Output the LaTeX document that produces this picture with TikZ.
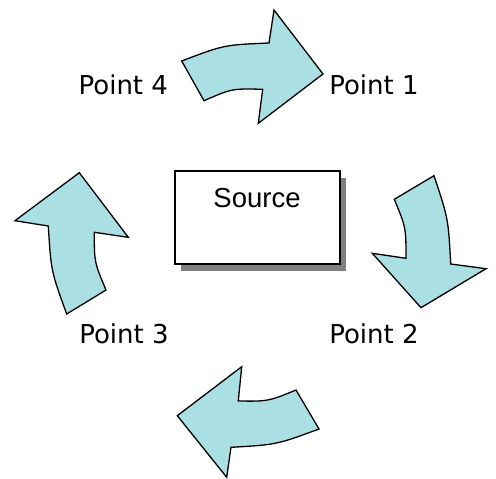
\documentclass[tikz,border=0pt]{standalone}
\usepackage{fontspec}
\usetikzlibrary{shadows}
\newfontfamily\labelfont{DejaVu Sans}
\newfontfamily\boxfont{Liberation Sans}
\definecolor{arrowfill}{RGB}{170,223,227}
\definecolor{shadowgray}{RGB}{128,128,128}
\begin{document}
\begin{tikzpicture}[x=1pt,y=-1pt,
  cyc/.style={draw=black,line width=1.3pt,fill=arrowfill,line join=miter},
  lbl/.style={font=\labelfont\fontsize{26}{30}\selectfont,inner sep=0pt,anchor=base west},
  srcbox/.style={draw=black,line width=1.5pt,fill=white,minimum width=165pt,minimum height=93pt,inner sep=0pt,
    drop shadow={shadow xshift=6pt,shadow yshift=-7pt,fill=shadowgray,opacity=1}},
  srctext/.style={font=\boxfont\fontsize{27.5}{32}\selectfont,inner sep=0pt,anchor=base}]
\useasboundingbox (0,0) rectangle (496,479);
% source box
\node[srcbox] (source) at (257.5,217.4) {};
\node[srctext] (sourcetext) at (257,207.3) {Source};
% labels
\node[lbl] (p4) at (78.4,94.3) {Point 4};
\node[lbl] (p1) at (329.1,94.3) {Point 1};
\node[lbl] (p3) at (79.1,343.3) {Point 3};
\node[lbl] (p2) at (329.1,343.3) {Point 2};
% arrow top (Point 4 -> Point 1)
\draw[cyc] (181.7,61) .. controls (223.9,44.9) .. (269,43) -- (274,10) -- (323,74) -- (258.3,123.3) -- (262.7,89.3)
  .. controls (232.1,88.5) .. (204,100.7) -- cycle;
% arrow right (Point 1 -> Point 2)
\draw[cyc] (434,175.7) .. controls (448.3,218.7) .. (450.7,264) -- (486,268.7) -- (421,307.7) -- (372.3,253.3) -- (406,258.3)
  .. controls (406,227.6) .. (394.3,199.3) -- cycle;
% arrow bottom (Point 2 -> Point 3)
\draw[cyc] (319,429) .. controls (276.4,444.7) .. (231,447.3) -- (226.7,477.3) -- (177.3,415.7) -- (241.7,366.7) -- (238.3,401)
  .. controls (268.3,401.4) .. (296,390) -- cycle;
% arrow left (Point 3 -> Point 4)
\draw[cyc] (66.7,314) .. controls (51.1,271.3) .. (48.3,226) -- (15,220.7) -- (79.3,172.7) -- (128.3,237.3) -- (94.3,232.3)
  .. controls (94.3,262.3) .. (106,290) -- cycle;
\end{tikzpicture}
\end{document}
